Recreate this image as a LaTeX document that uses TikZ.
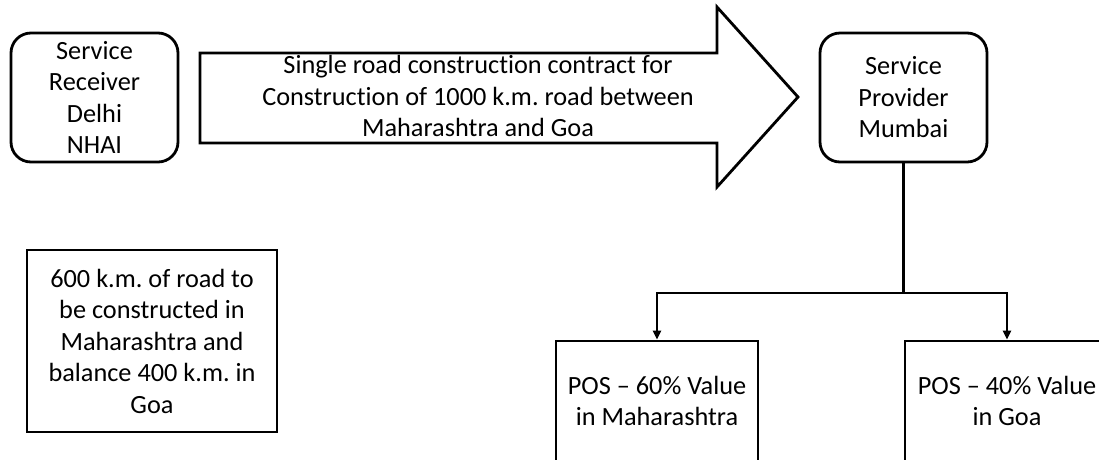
\documentclass[tikz,border=0pt]{standalone}
\usepackage{fontspec}
\setmainfont{Carlito}[Ligatures={NoCommon}]
\usetikzlibrary{arrows.meta}
\begin{document}
\frenchspacing
\begin{tikzpicture}[x=1pt,y=-1pt,
  every node/.style={font=\fontsize{26.3}{31.5}\selectfont\frenchspacing, align=center, inner sep=0pt},
  rbox/.style={draw, line width=2.8pt, rounded corners=20pt, minimum width=167pt, minimum height=129pt},
  sbox/.style={draw, line width=2.8pt},
  conn/.style={line width=2.8pt},
  tip/.style={-{Triangle[length=9pt,width=8pt]}}
]
\useasboundingbox (0,0) rectangle (1099,459);
\clip (0,0) rectangle (1099,459);
\node[rbox] (recv) at (94.5,97.5) {Service\\Receiver\\Delhi\\NHAI};
\node[rbox] (prov) at (903.5,97.5) {Service\\Provider\\Mumbai};
\draw[line width=2.8pt, line join=miter] (200,53) -- (717,53) -- (717,7) -- (798,97) -- (717,187) -- (717,143) -- (200,143) -- cycle;
\node (arrtext) at (478,96) {Single road construction contract for\\Construction of 1000 k.m. road between\\Maharashtra and Goa};
\node[sbox, minimum width=250pt, minimum height=182pt] (note) at (152,341) {600 k.m. of road to\\be constructed in\\Maharashtra and\\balance 400 k.m. in\\Goa};
\node[sbox, minimum width=202pt, minimum height=120pt] (pos1) at (657,401) {POS -- 60\% Value\\in Maharashtra};
\node[sbox, minimum width=204pt, minimum height=120pt] (pos2) at (1007,401) {POS -- 40\% Value\\in Goa};
\coordinate (fork) at (903.5,293);
\draw[conn] (prov.south) -- (fork);
\draw[conn, tip] (fork) -| (pos1.north);
\draw[conn, tip] (fork) -| (pos2.north);
\end{tikzpicture}
\end{document}
